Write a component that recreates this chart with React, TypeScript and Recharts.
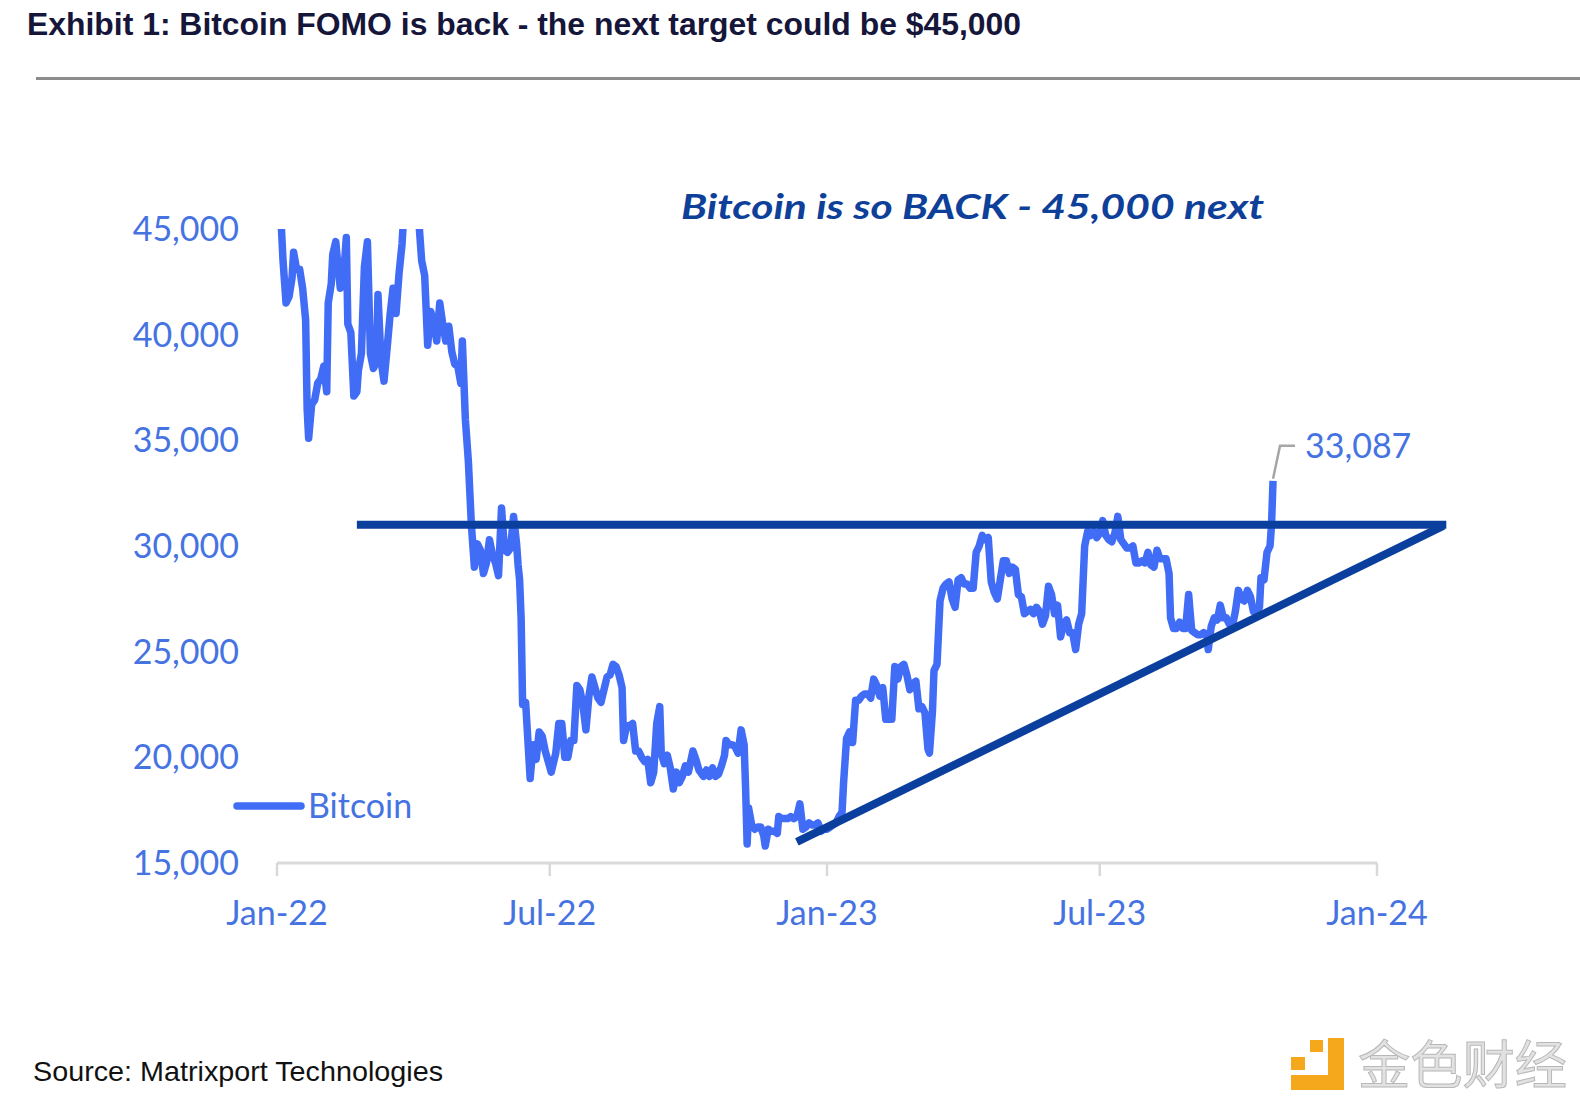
import React from 'react';
import { LineChart, Line, XAxis, YAxis, ReferenceLine, ReferenceDot, Legend } from 'recharts';

// Bitcoin price (MM-DD per year)
const days22 = [
  '01-01','01-03','01-05','01-07','01-09','01-11','01-12','01-14','01-16','01-18','01-20','01-21','01-22','01-24','01-26','01-28','01-30',
  '02-01','02-03','02-04','02-06','02-07','02-09','02-10','02-12','02-14','02-16','02-17','02-19','02-21','02-23','02-24','02-26','02-28',
  '03-02','03-04','03-06','03-08','03-09','03-11','03-13','03-15','03-17','03-19','03-21','03-23','03-25','03-27','03-29',
  '04-02','04-05','04-07','04-09','04-11','04-13','04-15','04-17','04-19','04-21','04-23','04-25','04-27','04-29',
  '05-01','05-03','05-04','05-06','05-08','05-10','05-12','05-14','05-16','05-18','05-20','05-22','05-24','05-26','05-28','05-30',
  '06-01','06-03','06-05','06-07','06-09','06-10','06-11','06-12','06-13','06-15','06-18','06-20','06-22','06-24','06-26','06-28','06-30',
  '07-02','07-05','07-07','07-09','07-11','07-13','07-15','07-17','07-19','07-21','07-23','07-25','07-27','07-29','07-31',
  '08-02','08-04','08-06','08-08','08-10','08-12','08-14','08-16','08-18','08-19','08-21','08-23','08-25','08-27','08-29','08-31',
  '09-02','09-04','09-06','09-08','09-10','09-12','09-13','09-15','09-17','09-19','09-21','09-23','09-25','09-27','09-29',
  '10-01','10-04','10-06','10-08','10-11','10-13','10-15','10-17','10-19','10-21','10-23','10-25','10-26','10-28','10-30',
  '11-01','11-03','11-05','11-07','11-08','11-09','11-10','11-12','11-14','11-16','11-18','11-20','11-21','11-23','11-25','11-27','11-29','11-30',
  '12-02','12-04','12-06','12-08','12-10','12-12','12-14','12-16','12-18','12-20','12-22','12-24','12-26','12-28','12-30',
];
const btc22 = [
  47700,46400,43500,41500,41800,42700,43900,43100,43100,42200,40700,36500,35100,36700,36900,37700,37900,
  38500,37300,41500,42400,43800,44400,43600,42200,42600,44600,40500,40100,37100,37300,38300,39100,43200,
  44400,39100,38400,38700,41900,38800,37800,39300,40900,42200,41000,42900,44300,46800,47500,
  46300,45500,43500,42800,39500,41100,40600,39700,41500,40500,39700,40400,39200,38600,
  38500,37700,39700,36000,34000,31000,29000,30100,29800,28700,29200,30300,29600,29200,28600,31800,
  29800,29700,29900,31400,30100,29100,28400,26600,22500,22600,19000,20600,19900,21200,21000,20300,19800,
  19300,20200,21600,21600,20000,20000,20800,20800,23400,23200,22500,21300,22900,23800,23300,
  22800,22600,23200,23800,23900,24400,24300,23900,23300,20800,21500,21500,21600,20300,20300,20000,
  19800,19900,18800,19300,21600,22400,20200,19700,20100,19500,18500,19300,18800,19100,19600,
  19300,20300,19900,19400,19100,19400,19100,19500,19100,19200,19600,20100,20800,20600,20600,
  20500,20200,21300,20600,18500,15900,17600,16800,16600,16700,16700,16300,15800,16600,16500,16500,16400,17200,
  17100,17100,17100,17200,17100,17200,17800,16600,16700,16900,16800,16800,16900,16500,16600,
];
const days23 = [
  '01-01','01-03','01-05','01-07','01-09','01-11','01-12','01-14','01-16','01-18','01-20','01-22','01-24','01-26','01-28','01-30',
  '02-01','02-03','02-05','02-07','02-09','02-11','02-13','02-15','02-17','02-19','02-21','02-23','02-25','02-27',
  '03-01','03-03','03-05','03-07','03-09','03-10','03-12','03-13','03-15','03-17','03-19','03-21','03-23','03-25','03-27','03-29','03-31',
  '04-02','04-04','04-06','04-08','04-10','04-12','04-14','04-16','04-18','04-20','04-22','04-24','04-26','04-28','04-30',
  '05-02','05-04','05-06','05-08','05-10','05-12','05-14','05-16','05-18','05-20','05-22','05-24','05-26','05-28','05-30',
  '06-01','06-03','06-05','06-07','06-09','06-11','06-13','06-15','06-17','06-19','06-21','06-23','06-25','06-27','06-29',
  '07-01','07-03','07-05','07-07','07-09','07-11','07-13','07-15','07-17','07-19','07-21','07-23','07-25','07-27','07-29','07-31',
  '08-02','08-04','08-06','08-08','08-10','08-12','08-14','08-16','08-17','08-19','08-21','08-23','08-25','08-27','08-29','08-31',
  '09-02','09-04','09-06','09-08','09-10','09-11','09-13','09-15','09-17','09-19','09-21','09-23','09-25','09-27','09-29',
  '10-01','10-03','10-05','10-07','10-09','10-11','10-13','10-15','10-16','10-18','10-20','10-22','10-23','10-24',
];
const btc23 = [
  16600,16700,16800,16900,17200,17400,18800,20900,21200,20700,22700,22700,22900,23000,23000,22800,
  23700,23400,22900,23300,21800,21800,21800,24300,23700,24300,24400,23900,23200,23500,
  23600,22300,22400,22100,20400,20200,22200,24100,24400,27400,28000,28200,28300,27500,27100,28400,28500,
  28200,28200,28000,28000,29700,30000,30500,30300,30400,28300,27800,27500,28400,29300,29300,
  28700,29000,28900,27700,27600,26800,26900,27000,26800,27100,26900,26300,26700,28100,27700,
  26800,27200,25700,26300,26500,25900,25900,25100,26300,26800,30000,30700,30500,30700,30400,
  30600,31200,30500,30300,30200,30600,31400,30300,30100,29900,29900,30000,29200,29200,29300,29200,
  29700,29100,29000,29800,29400,29400,29400,28700,26600,26100,26100,26400,26100,26100,27700,26000,
  25900,25800,25800,25900,25800,25100,26200,26600,26500,27200,26600,26600,26300,26200,26900,
  27900,27500,27400,27900,27600,26900,26900,27100,28500,28400,29700,30000,31000,33087,
];

const lastPrice = 33087;
const lastDate = '2023-10-24';

// trend lines drawn on the chart
const resistance = [
  { date: '2022-02-23', value: 31000 },
  { date: '2024-02-16', value: 31000 },
];
const support = [
  { date: '2022-12-12', value: 16000 },
  { date: '2024-02-14', value: 30950 },
];

const xTickDates = ['2022-01-01', '2022-07-01', '2023-01-01', '2023-07-01', '2024-01-01'];
const xTickLabels = ['Jan-22', 'Jul-22', 'Jan-23', 'Jul-23', 'Jan-24'];
const yTicks = [15000, 20000, 25000, 30000, 35000, 40000, 45000];

const ts = (d: string) => Date.parse(d + 'T00:00:00Z');

const data = [
  ...days22.map((d, i) => ({ ts: ts('2022-' + d), btc: btc22[i] })),
  ...days23.map((d, i) => ({ ts: ts('2023-' + d), btc: btc23[i] })),
];

const xTicks = xTickDates.map(ts);
const BLUE = '#416CF5';
const LABEL = '#4673E2';
const NAVY = '#0B3F9E';
const FONT = 'Lato, "Open Sans", sans-serif';

const LastLabel = (props: any) => {
  const { cx, cy } = props;
  return (
    <g>
      <polyline
        points={`${cx},${cy - 2} ${cx + 7},${cy - 35} ${cx + 22},${cy - 35}`}
        fill="none"
        stroke="#a6a6a6"
        strokeWidth={2.5}
      />
      <text x={cx + 32} y={cy - 35} dy="0.36em" fill={LABEL} fontFamily={FONT} fontSize={34}>
        {lastPrice.toLocaleString('en-US')}
      </text>
    </g>
  );
};

const LegendContent = () => (
  <svg width={240} height={60} style={{ overflow: 'visible' }}>
    <line x1={6} y1={30} x2={70} y2={30} stroke={BLUE} strokeWidth={7.5} strokeLinecap="round" />
    <text x={77} y={30} dy="0.36em" fill={LABEL} fontFamily={FONT} fontSize={34}>
      Bitcoin
    </text>
  </svg>
);

export default function App() {
  return (
    <div style={{ position: 'absolute', left: 0, top: 0, width: 1580, height: 1106, background: '#fff' }}>
      <LineChart
        width={1580}
        height={1106}
        data={data}
        margin={{ top: 229, right: 203, bottom: 163, left: 177 }}
      >
        <XAxis
          type="number"
          dataKey="ts"
          domain={[xTicks[0], xTicks[xTicks.length - 1]]}
          ticks={xTicks}
          tickFormatter={(v: number) => xTickLabels[xTicks.indexOf(v)]}
          height={80}
          axisLine={{ stroke: '#d9d9d9', strokeWidth: 3 }}
          tickLine={{ stroke: '#d9d9d9', strokeWidth: 2.5 }}
          tickSize={13}
          tickMargin={25}
          tick={{ fill: LABEL, fontFamily: FONT, fontSize: 34 }}
        />
        <YAxis
          type="number"
          domain={[15000, 45000]}
          ticks={yTicks}
          allowDataOverflow
          width={100}
          axisLine={false}
          tickLine={false}
          tickSize={0}
          tickMargin={38}
          tickFormatter={(v: number) => v.toLocaleString('en-US')}
          tick={{ fill: LABEL, fontFamily: FONT, fontSize: 34 }}
        />
        <Legend
          layout="horizontal"
          verticalAlign="middle"
          align="center"
          content={<LegendContent />}
          wrapperStyle={{ left: 231, top: 776, width: 240, height: 60 }}
        />
        <Line
          dataKey="btc"
          name="Bitcoin"
          stroke={BLUE}
          strokeWidth={7.5}
          dot={false}
          strokeLinejoin="round"
          isAnimationActive={false}
        />
        <ReferenceLine
          segment={resistance.map((p) => ({ x: ts(p.date), y: p.value }))}
          stroke={NAVY}
          strokeWidth={8}
          ifOverflow="visible"
        />
        <ReferenceLine
          segment={support.map((p) => ({ x: ts(p.date), y: p.value }))}
          stroke={NAVY}
          strokeWidth={8}
          ifOverflow="visible"
        />
        <ReferenceDot x={ts(lastDate)} y={lastPrice} r={0} shape={<LastLabel />} ifOverflow="visible" />
      </LineChart>

      <svg width={1580} height={1106} style={{ position: 'absolute', left: 0, top: 0, pointerEvents: 'none' }}>
        <text
          x={27}
          y={35}
          fill="#15163a"
          fontFamily='"Liberation Sans", Arial, sans-serif'
          fontWeight="bold"
          fontSize={32}
          textLength={994}
          lengthAdjust="spacingAndGlyphs"
        >
          Exhibit 1: Bitcoin FOMO is back - the next target could be $45,000
        </text>
        <rect x={36} y={77} width={1544} height={3} fill="#8c8c8c" />
        <text
          x={681}
          y={219}
          fill="#0E3F99"
          fontFamily={FONT}
          fontWeight="bold"
          fontStyle="italic"
          fontSize={35}
          textLength={583}
          lengthAdjust="spacingAndGlyphs"
        >
          Bitcoin is so BACK - 45,000 next
        </text>
        <text
          x={33}
          y={1081}
          fill="#111"
          fontFamily='"Liberation Sans", Arial, sans-serif'
          fontSize={28}
          textLength={410}
          lengthAdjust="spacingAndGlyphs"
        >
          Source: Matrixport Technologies
        </text>
        <g>
          <rect x={1328} y={1038} width={16} height={52} fill="#F5A81C" />
          <rect x={1291} y={1075} width={53} height={15} fill="#F5A81C" />
          <rect x={1310} y={1040} width={13} height={12} fill="#F5A81C" />
          <rect x={1291} y={1057} width={14} height={13} fill="#F5A81C" />
          <text
            x={1358}
            y={1084}
            fill="#e2e2e2"
            stroke="#b8b8b8"
            strokeWidth={1}
            fontFamily='"Noto Sans CJK SC", sans-serif'
            fontSize={52}
            textLength={209}
            lengthAdjust="spacingAndGlyphs"
          >
            金色财经
          </text>
        </g>
      </svg>
    </div>
  );
}
